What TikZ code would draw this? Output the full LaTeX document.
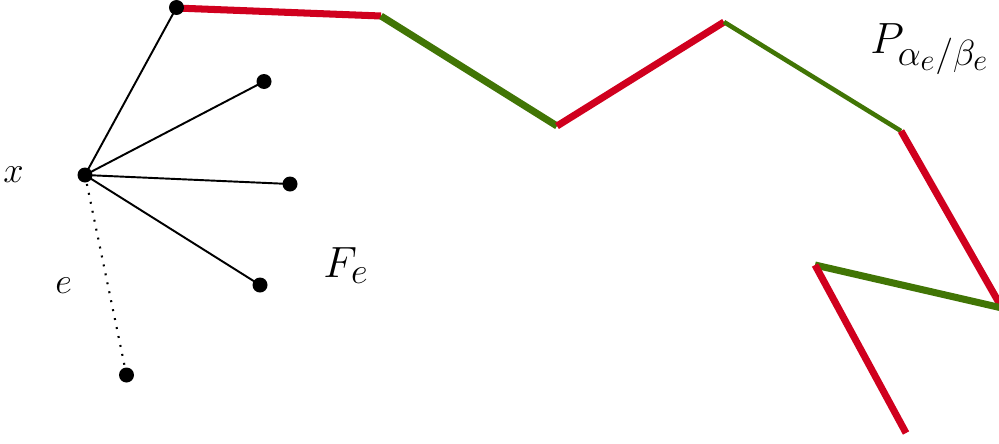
\documentclass[tikz,border=0pt]{standalone}
\usepackage{xcolor}
\definecolor{pred}{RGB}{208,0,30}
\definecolor{pgreen}{RGB}{65,117,5}
\DeclareMathSizes{26}{26}{21.67}{18.06}
\begin{document}
\begin{tikzpicture}[x=0.02cm,y=-0.02cm,
  vdot/.style={circle,fill=black,inner sep=0pt,minimum size=0.3cm},
  edge/.style={line width=1.1pt,black},
  dotedge/.style={line width=1.2pt,dash pattern=on 1.1pt off 4.1pt},
  redseg/.style={line width=4pt,pred},
  greenseg/.style={line width=4pt,pgreen},
  thingreen/.style={line width=2.6pt,pgreen},
  smalllab/.style={font=\fontsize{20}{24}\selectfont,inner sep=0pt,anchor=base west},
  biglab/.style={font=\fontsize{26}{30}\selectfont,inner sep=0pt,anchor=base west}]
\clip (0,0) rectangle (999,443);
% path vertices
\coordinate (p1) at (381,16);
\coordinate (p2) at (557,126);
\coordinate (p3) at (724,22);
\coordinate (p4) at (901,131);
\coordinate (p5) at (1002,308);
\coordinate (p6) at (815,265);
\coordinate (p7) at (906,433);
% path
\draw[redseg] (176,8) -- (p1);
\draw[greenseg] (p1) -- (p2);
\draw[redseg] (p2) -- (p3);
\draw[thingreen] (p3) -- (p4);
\draw[redseg] (p4) -- (p5);
\draw[greenseg] (p5) -- (p6);
\draw[redseg] (p6) -- (p7);
% tree
\node[vdot] (t) at (176.5,7.5) {};
\node[vdot] (x) at (85,175) {};
\node[vdot] (l1) at (264,81.5) {};
\node[vdot] (l2) at (290,184) {};
\node[vdot] (l3) at (260,285) {};
\node[vdot] (l4) at (126.5,375) {};
\draw[edge] (x.center) -- (t.center);
\draw[edge] (x.center) -- (l1.center);
\draw[edge] (x.center) -- (l2.center);
\draw[edge] (x.center) -- (l3.center);
\draw[dotedge] (x.center) -- (l4.center);
% labels
\node[smalllab] (lx) at (3,182) {$x$};
\node[smalllab] (le) at (55,293) {$e$};
\node[biglab] (lf) at (323,277) {$F_e$};
\node[biglab] (lp) at (870,53) {$P_{\alpha_e/\beta_e}$};
\end{tikzpicture}
\end{document}
